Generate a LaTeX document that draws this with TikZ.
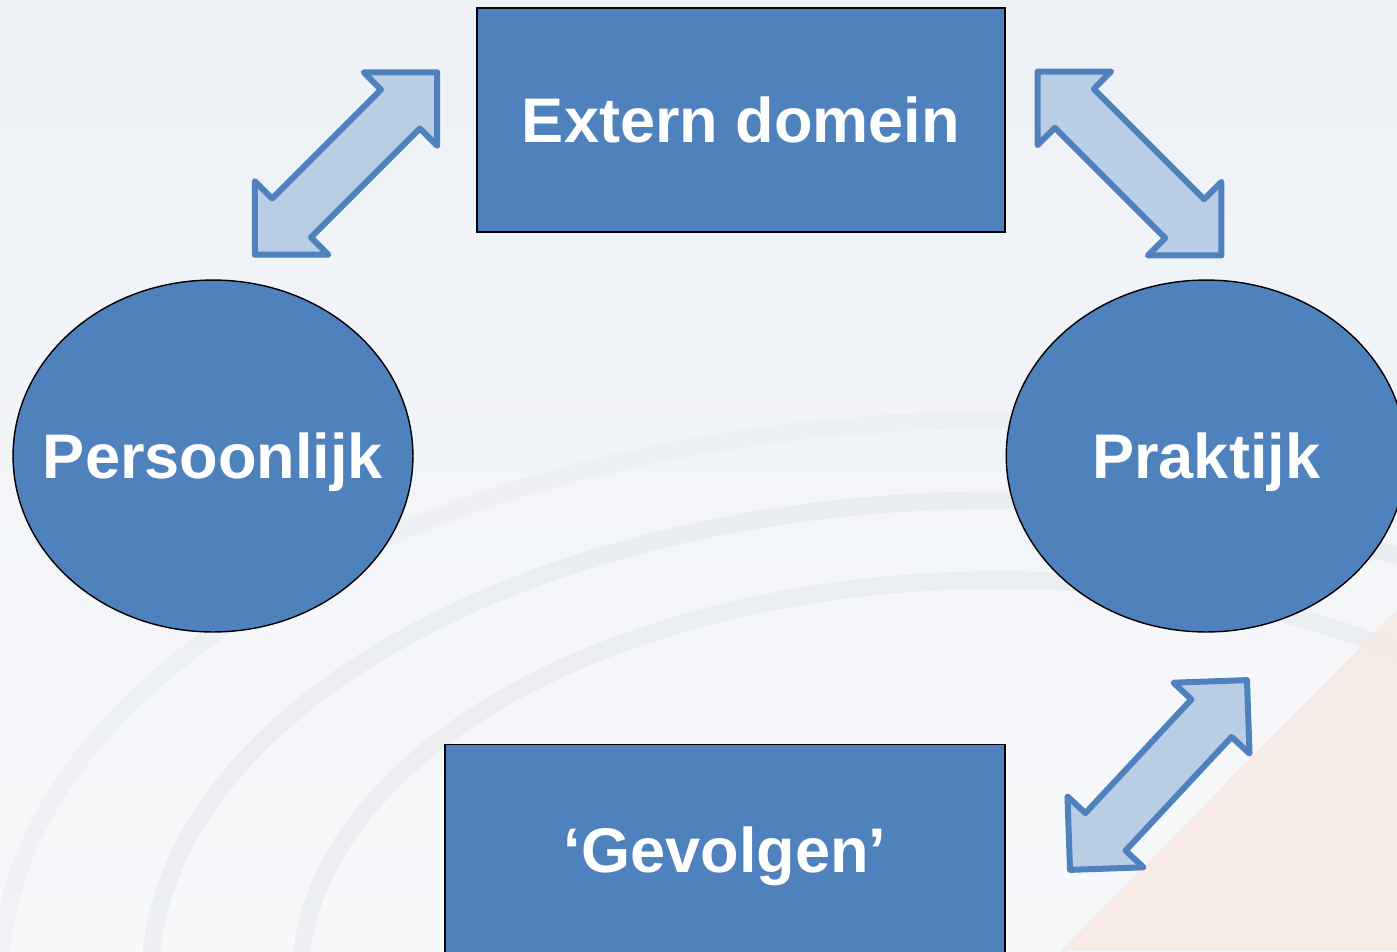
\documentclass[tikz,border=0pt]{standalone}
\usepackage{fontspec}
\setmainfont{Liberation Sans}
\usetikzlibrary{shapes.geometric, shapes.arrows, positioning}
\definecolor{accent}{HTML}{4F81BD}
\definecolor{pale}{HTML}{B9CDE5}
\definecolor{backtop}{HTML}{EDF1F6}
\definecolor{backbottom}{HTML}{F8F9FB}
\definecolor{peach}{HTML}{F6E9E0}
\definecolor{ripple}{HTML}{D5D9DF}
\tikzstyle{areabox} = [rectangle, minimum width=10.56cm, minimum height=4.48cm,
text centered, draw=black, line width=0.8pt, fill=accent, text=white,
font=\fontsize{35.9}{43}\selectfont\bfseries]
\tikzstyle{spherebox} = [ellipse, minimum width=8cm, minimum height=7.04cm,
text centered, text depth=0pt, draw=black, line width=0.8pt, fill=accent, text=white,
font=\fontsize{35.9}{43}\selectfont\bfseries]
\tikzstyle{linkarrow} = [double arrow, double arrow tip angle=90, double arrow head extend=0.49cm,
minimum height=5.16cm, inner xsep=0pt, inner ysep=0.49cm, draw=accent, fill=pale,
line width=0.12cm, line join=round]
\tikzstyle{ring} = [ripple, line width=0.35cm, opacity=0.3]

\begin{document}
\begin{tikzpicture}[x=0.02cm, y=-0.02cm]
      \useasboundingbox (0,0) rectangle (1397,951);
      \clip (0,0) rectangle (1397,951);
      \shade [top color=backtop, bottom color=backbottom] (0,0) rectangle (1397,951);
      % faint ripples of the backdrop
      \draw [ring] (1000,980) ellipse [x radius=850, y radius=480];
      \draw [ring] (1000,980) ellipse [x radius=700, y radius=400];
      \draw [ring, opacity=0.2] (1000,980) ellipse [x radius=1000, y radius=560];
      \fill [peach, opacity=0.8] (1060,951) -- (1397,610) -- (1397,951) -- cycle;

      \node (ext) [areabox] at (741,120) {Extern domein};
      \node (gev) [areabox, minimum width=11.2cm, minimum height=4.5cm, below=10.22cm of ext, xshift=-0.32cm] {‘Gevolgen’};
      \node (pers) [spherebox] at (213,456) {\makebox[0pt]{Persoonlijk}};
      \node (prak) [spherebox, right=11.84cm of pers] {\makebox[0pt]{Praktijk}};

      \node (link1) [linkarrow, rotate=45] at (346,163.5) {};
      \node (link2) [linkarrow, rotate=-45, minimum height=5.2cm] at (1129.5,163.5) {};
      \node (link3) [linkarrow, rotate=47, minimum height=5.19cm] at (1158.5,775) {};
    \end{tikzpicture}
\end{document}
